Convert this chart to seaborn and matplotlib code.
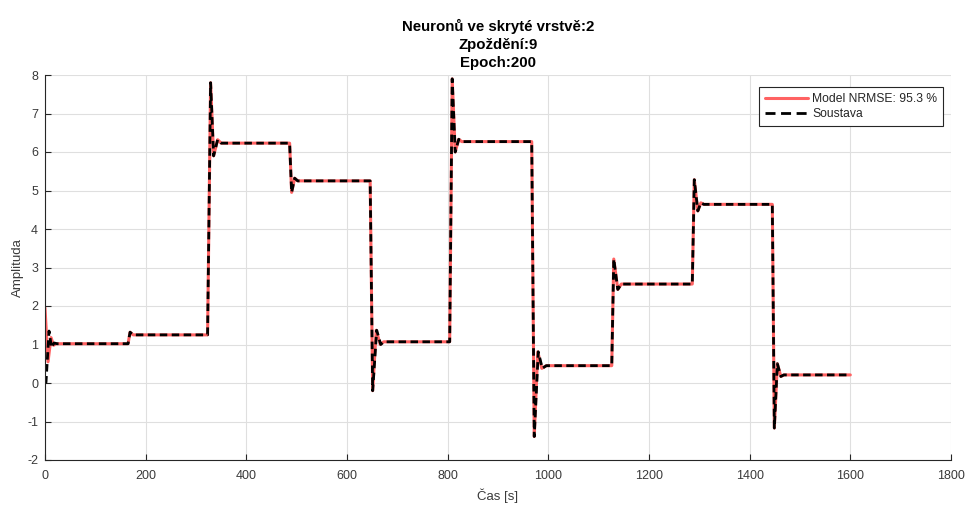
import matplotlib
matplotlib.use("Agg")
import matplotlib.pyplot as plt
import seaborn as sns

# Simulation settings shown in the title / legend
neurons = 2
delay = 9
epochs = 200
nrmse = 95.3

# System response (Soustava): breakpoints (time [s], amplitude)
t_sys = [0, 2, 8, 13, 18, 24,
         165, 169, 175,
         323, 329, 335, 343, 350,
         486, 490, 496, 502,
         646, 651, 659, 667, 673,
         804, 809, 815, 822, 828,
         967, 972, 980, 988, 996,
         1126, 1130, 1138, 1145,
         1286, 1290, 1297, 1303, 1309,
         1445, 1449, 1455, 1462, 1468,
         1600]
y_sys = [0.0, 0.02, 1.35, 0.92, 1.04, 1.02,
         1.02, 1.32, 1.25,
         1.25, 7.80, 5.90, 6.32, 6.23,
         6.23, 4.95, 5.32, 5.25,
         5.25, -0.20, 1.37, 1.00, 1.07,
         1.07, 7.90, 6.00, 6.33, 6.27,
         6.27, -1.39, 0.81, 0.38, 0.45,
         0.45, 3.22, 2.43, 2.57,
         2.57, 5.28, 4.47, 4.68, 4.64,
         4.64, -1.17, 0.50, 0.17, 0.21,
         0.21]

# Neural network model output: breakpoints (time [s], amplitude)
t_model = [0, 6, 12, 17, 22,
           165, 169, 175,
           323, 329, 335, 343, 350,
           486, 490, 496, 502,
           646, 651, 658, 666, 673,
           804, 809, 815, 822, 828,
           967, 972, 979, 987, 996,
           1126, 1130, 1138, 1145,
           1286, 1290, 1297, 1303, 1309,
           1445, 1449, 1455, 1462, 1468,
           1600]
y_model = [1.95, 0.55, 1.18, 0.98, 1.02,
           1.02, 1.32, 1.25,
           1.25, 7.80, 5.90, 6.32, 6.23,
           6.23, 4.95, 5.32, 5.25,
           5.25, -0.20, 1.37, 1.00, 1.07,
           1.07, 7.90, 6.00, 6.33, 6.27,
           6.27, -1.39, 0.81, 0.38, 0.45,
           0.45, 3.22, 2.43, 2.57,
           2.57, 5.28, 4.47, 4.68, 4.64,
           4.64, -1.17, 0.50, 0.17, 0.21,
           0.21]

x_ticks = [0, 200, 400, 600, 800, 1000, 1200, 1400, 1600, 1800]
y_ticks = [-2, -1, 0, 1, 2, 3, 4, 5, 6, 7, 8]

sns.set_theme(style="whitegrid")
plt.rcParams["font.family"] = ["Liberation Sans", "DejaVu Sans"]

W, H = 971, 505
fig = plt.figure(figsize=(W / 100, H / 100), dpi=100)
ax = fig.add_axes([45 / W, 1 - 460 / H, 906 / W, 385 / H])
ax.set_facecolor("white")

sns.lineplot(x=t_model, y=y_model, ax=ax, color="#ff6262", lw=2.2,
             sort=False, estimator=None, label=f"Model NRMSE: {nrmse} %")
sns.lineplot(x=t_sys, y=y_sys, ax=ax, color="black", lw=2.0,
             dashes=False, sort=False, estimator=None, label="Soustava")
ax.lines[1].set_dashes((2.7, 1.6))

ax.set_xlim(0, 1800)
ax.set_ylim(-2, 8)
ax.set_xticks(x_ticks)
ax.set_yticks(y_ticks)
ax.set_xticklabels([str(v) for v in x_ticks])
ax.set_yticklabels([str(v) for v in y_ticks])

ax.grid(True, color="#dfdfdf", lw=0.8)
for side in ("top", "right"):
    ax.spines[side].set_visible(False)
for side in ("left", "bottom"):
    ax.spines[side].set_visible(True)
    ax.spines[side].set_color("#262626")
    ax.spines[side].set_linewidth(0.8)

ax.tick_params(axis="both", direction="in", length=4, width=0.8,
               color="#262626", labelcolor="#3a3a3a", labelsize=9,
               left=True, bottom=True)
ax.tick_params(axis="x", pad=7)
ax.tick_params(axis="y", pad=5)

ax.set_xlabel("Čas [s]", fontsize=9.5, color="#3a3a3a", labelpad=5)
ax.set_ylabel("Amplituda", fontsize=9.5, color="#3a3a3a", labelpad=2)
ax.set_title(f"Neuronů ve skryté vrstvě:{neurons}\nZpoždění:{delay}\nEpoch:{epochs}",
             fontsize=10.8, fontweight="bold", linespacing=1.35, pad=6,
             color="black")

leg = ax.legend(loc="upper right", bbox_to_anchor=(0.9912, 0.9688),
                fontsize=8.7, frameon=True, fancybox=False, framealpha=1,
                edgecolor="#262626", borderpad=0.5, handlelength=3.6,
                handletextpad=0.3, labelspacing=0.25, borderaxespad=0)
leg.get_frame().set_linewidth(0.8)
leg.get_lines()[1].set_dashes((3.6, 2.0))

fig.savefig("out.png", dpi=100, facecolor="white")
